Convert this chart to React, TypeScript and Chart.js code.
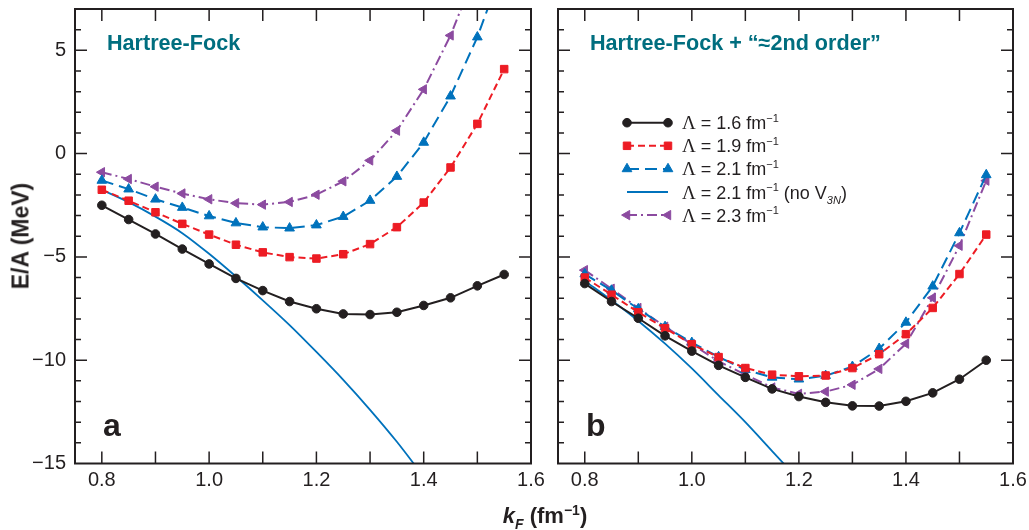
import React, { useEffect, useRef } from 'react';
import { Chart, registerables } from 'chart.js';
import { drawPoint } from 'chart.js/helpers';

Chart.register(...registerables);

// ---------- data ----------
const kF = [0.8, 0.85, 0.9, 0.95, 1.0, 1.05, 1.1, 1.15, 1.2, 1.25, 1.3, 1.35, 1.4, 1.45, 1.5, 1.55];

// Panel a: Hartree-Fock
const hf16 = [-2.5, -3.19, -3.89, -4.62, -5.34, -6.04, -6.63, -7.16, -7.51, -7.76, -7.79, -7.68, -7.35, -6.98, -6.4, -5.85];
const hf19 = [-1.75, -2.28, -2.84, -3.4, -3.92, -4.41, -4.78, -5.01, -5.08, -4.87, -4.38, -3.56, -2.37, -0.67, 1.44, 4.09];
const hf21 = [-1.3, -1.72, -2.21, -2.61, -3.02, -3.36, -3.56, -3.61, -3.46, -3.05, -2.27, -1.11, 0.54, 2.78, 5.64, 9.2];
const hf21noV = [-1.75, -2.35, -3.05, -3.85, -4.85, -5.95, -7.1, -8.3, -9.6, -10.95, -12.4, -13.95, -15.65, -17.4];
const hf23 = [-0.9, -1.23, -1.6, -1.93, -2.21, -2.4, -2.47, -2.34, -1.99, -1.34, -0.33, 1.11, 3.11, 5.72, 9.0, 13.0];

// Panel b: Hartree-Fock + "≈2nd order"
const so16 = [-6.29, -7.16, -7.97, -8.82, -9.56, -10.25, -10.83, -11.39, -11.76, -12.04, -12.21, -12.22, -11.99, -11.58, -10.92, -10.0];
const so19 = [-6.0, -6.83, -7.68, -8.45, -9.23, -9.85, -10.38, -10.7, -10.78, -10.74, -10.38, -9.71, -8.74, -7.47, -5.83, -3.92];
const so21 = [-5.83, -6.62, -7.52, -8.38, -9.15, -9.84, -10.46, -10.83, -10.92, -10.75, -10.31, -9.44, -8.17, -6.42, -3.84, -1.03];
const so21noV = [-6.16, -7.1, -8.1, -9.2, -10.4, -11.7, -13.0, -14.4, -15.8];
const so23 = [-5.64, -6.54, -7.47, -8.38, -9.23, -10.05, -10.7, -11.32, -11.63, -11.52, -11.19, -10.42, -9.2, -6.98, -4.46, -1.31];

const xRange = [0.75, 1.6];
const yRange = [-15, 7];

const seriesLabels = [
  'Λ = 1.6 fm⁻¹',
  'Λ = 1.9 fm⁻¹',
  'Λ = 2.1 fm⁻¹',
  'Λ = 2.1 fm⁻¹ (no V3N)',
  'Λ = 2.3 fm⁻¹',
];
const legendCutoffs = ['1.6', '1.9', '2.1', '2.1', '2.3'];

const titleA = 'Hartree-Fock';
const titleB = 'Hartree-Fock + \u201C\u22482nd order\u201D';

// ---------- styles ----------
const INK = '#231f20';
const RED = '#ed1c24';
const BLUE = '#0072bc';
const PURPLE = '#8c4ba0';
const TEAL = '#006e7f';
const SANS = '"Liberation Sans", Arial, Helvetica, sans-serif';
const SERIF = '"Liberation Serif", "Times New Roman", serif';

function pts(vals: number[]) {
  return vals.map((v, i) => ({ x: kF[i], y: v }));
}

function makeDatasets(v16: number[], v19: number[], v21: number[], v21n: number[], v23: number[]) {
  return [
    {
      label: seriesLabels[0], data: pts(v16), borderColor: INK, backgroundColor: INK, borderWidth: 2,
      pointStyle: 'circle', pointRadius: 4.3, pointBackgroundColor: INK, pointBorderColor: INK, pointBorderWidth: 1,
      tension: 0, clip: 0,
    },
    {
      label: seriesLabels[1], data: pts(v19), borderColor: RED, backgroundColor: RED, borderWidth: 2, borderDash: [7, 4],
      pointStyle: 'rect', pointRadius: 5.3, pointBackgroundColor: RED, pointBorderColor: RED, pointBorderWidth: 1,
      tension: 0, clip: 0,
    },
    {
      label: seriesLabels[2], data: pts(v21), borderColor: BLUE, backgroundColor: BLUE, borderWidth: 2, borderDash: [12, 6],
      pointStyle: 'triangle', pointRadius: 5.6, pointBackgroundColor: BLUE, pointBorderColor: BLUE, pointBorderWidth: 1,
      tension: 0, clip: 0,
    },
    {
      label: seriesLabels[3], data: pts(v21n), borderColor: BLUE, backgroundColor: BLUE, borderWidth: 1.8,
      pointRadius: 0, cubicInterpolationMode: 'monotone', clip: 0,
    },
    {
      label: seriesLabels[4], data: pts(v23), borderColor: PURPLE, backgroundColor: PURPLE, borderWidth: 2, borderDash: [10, 4, 2, 4],
      pointStyle: 'triangle', pointRotation: -90, pointRadius: 5.4, pointBackgroundColor: PURPLE, pointBorderColor: PURPLE, pointBorderWidth: 1,
      tension: 0, clip: 0,
    },
  ];
}

// ---------- plugin: frame, inward ticks, annotations, legend ----------
function drawRich(ctx: CanvasRenderingContext2D, x: number, y: number, segs: { t: string; font: string; dy?: number }[]) {
  let cx = x;
  for (const s of segs) {
    ctx.font = s.font;
    ctx.fillText(s.t, cx, y + (s.dy || 0));
    cx += ctx.measureText(s.t).width;
  }
}

const decorPlugin = {
  id: 'decor',
  afterDatasetsDraw(chart: any) {
    const { ctx, chartArea } = chart;
    const { left, right, top, bottom } = chartArea;
    const xs = chart.scales.x;
    const ys = chart.scales.y;
    ctx.save();
    ctx.strokeStyle = INK;
    ctx.lineWidth = 1.5;
    ctx.setLineDash([]);
    ctx.beginPath();
    xs.ticks.forEach((t: any) => {
      const px = xs.getPixelForValue(t.value);
      if (px <= left + 1 || px >= right - 1) return;
      ctx.moveTo(px, bottom); ctx.lineTo(px, bottom - 12);
      ctx.moveTo(px, top); ctx.lineTo(px, top + 12);
    });
    ys.ticks.forEach((t: any) => {
      const py = ys.getPixelForValue(t.value);
      if (py <= top + 1 || py >= bottom - 1) return;
      const major = Math.abs(t.value % 5) < 1e-6;
      const L = major ? 12 : 6;
      ctx.moveTo(left, py); ctx.lineTo(left + L, py);
      ctx.moveTo(right, py); ctx.lineTo(right - L, py);
    });
    ctx.stroke();
    ctx.lineWidth = 2;
    ctx.strokeRect(left, top, right - left, bottom - top);
    ctx.restore();
  },
  afterDraw(chart: any, _a: any, opts: any) {
    const { ctx, chartArea } = chart;
    const { left, top } = chartArea;
    ctx.save();
    ctx.textBaseline = 'alphabetic';
    ctx.textAlign = 'left';
    // title
    ctx.fillStyle = TEAL;
    ctx.font = `bold 21.6px ${SANS}`;
    ctx.fillText(opts.title, left + 32, top + 41);
    // panel letter
    ctx.fillStyle = INK;
    ctx.font = `bold 32px ${SANS}`;
    ctx.fillText(opts.letter, left + 28, top + 427);
    // legend
    if (opts.legend) {
      const x0 = left + 69;
      const x1 = left + 110;
      const tx = left + 124;
      chart.data.datasets.forEach((ds: any, i: number) => {
        const y = top + 113.7 + i * 23.1;
        ctx.strokeStyle = ds.borderColor;
        ctx.fillStyle = ds.borderColor;
        ctx.lineWidth = ds.borderWidth;
        ctx.setLineDash(ds.borderDash || []);
        ctx.beginPath();
        ctx.moveTo(x0, y); ctx.lineTo(x1, y);
        ctx.stroke();
        ctx.setLineDash([]);
        if (ds.pointRadius > 0) {
          const po = { pointStyle: ds.pointStyle, rotation: ds.pointRotation || 0, radius: ds.pointRadius, borderWidth: 1 };
          ctx.lineWidth = 1;
          drawPoint(ctx, po as any, x0, y);
          drawPoint(ctx, po as any, x1, y);
        }
        ctx.fillStyle = INK;
        const segs: { t: string; font: string; dy?: number }[] = [
          { t: 'Λ', font: `19px ${SERIF}` },
          { t: ` = ${legendCutoffs[i]} fm`, font: `18px ${SANS}` },
          { t: '−1', font: `11px ${SANS}`, dy: -7.5 },
        ];
        if (i === 3) {
          segs.push({ t: ' (no V', font: `18px ${SANS}` });
          segs.push({ t: '3N', font: `italic 11px ${SANS}`, dy: 5 });
          segs.push({ t: ')', font: `18px ${SANS}` });
        }
        drawRich(ctx, tx, y + 6.5, segs);
      });
    }
    ctx.restore();
  },
};

function fmtY(v: number) {
  if (Math.abs(v % 5) > 1e-6) return '';
  return v < 0 ? '\u2212' + Math.abs(v) : String(v);
}
function fmtX(v: number) {
  return Math.round(v * 10) % 2 === 0 ? v.toFixed(1) : '';
}

function makeConfig(datasets: any[], showY: boolean, padding: any, decor: any): any {
  return {
    type: 'line',
    data: { datasets },
    plugins: [decorPlugin],
    options: {
      animation: false,
      responsive: false,
      maintainAspectRatio: false,
      layout: { padding },
      plugins: { legend: { display: false }, tooltip: { enabled: false }, decor },
      scales: {
        x: {
          type: 'linear', min: xRange[0], max: xRange[1],
          grid: { display: false, drawTicks: false }, border: { display: false },
          ticks: {
            stepSize: 0.1, includeBounds: false, autoSkip: false, maxRotation: 0, padding: 5,
            color: INK, font: { family: SANS, size: 20 }, callback: (v: any) => fmtX(Number(v)),
          },
          afterFit: (s: any) => { s.height = 66.5; s.paddingLeft = 0; s.paddingRight = 0; },
        },
        y: {
          type: 'linear', min: yRange[0], max: yRange[1],
          grid: { display: false, drawTicks: false }, border: { display: false },
          ticks: {
            display: showY, stepSize: 1, includeBounds: false, autoSkip: false, padding: 9,
            color: INK, font: { family: SANS, size: 20 }, callback: (v: any) => fmtY(Number(v)),
          },
          afterFit: (s: any) => { s.width = showY ? 75 : 0; s.paddingTop = 0; s.paddingBottom = 0; },
        },
      },
    },
  };
}

function Panel(props: { config: any; left: number; width: number }) {
  const ref = useRef<HTMLCanvasElement | null>(null);
  useEffect(() => {
    if (!ref.current) return;
    const chart = new Chart(ref.current, props.config);
    return () => chart.destroy();
  }, []);
  return (
    <canvas
      ref={ref}
      width={props.width}
      height={530}
      style={{ position: 'absolute', left: props.left, top: 0, width: props.width, height: 530 }}
    />
  );
}

export default function App() {
  const cfgA = makeConfig(makeDatasets(hf16, hf19, hf21, hf21noV, hf23), true,
    { left: 0, top: 9, right: 17, bottom: 0 }, { title: titleA, letter: 'a', legend: false });
  const cfgB = makeConfig(makeDatasets(so16, so19, so21, so21noV, so23), false,
    { left: 10, top: 9, right: 16, bottom: 0 }, { title: titleB, letter: 'b', legend: true });
  return (
    <div style={{ position: 'fixed', left: 0, top: 0, width: 1029, height: 530, background: '#fff', overflow: 'hidden' }}>
      <Panel config={cfgA} left={0} width={548} />
      <Panel config={cfgB} left={548} width={481} />
      <div
        style={{
          position: 'absolute', left: 21, top: 236, transform: 'translate(-50%, -50%) rotate(-90deg)',
          font: `bold 23px ${SANS}`, color: INK, whiteSpace: 'nowrap', lineHeight: 1,
        }}
      >
        E/A (MeV)
      </div>
      <div
        style={{
          position: 'absolute', left: 545, top: 516, transform: 'translate(-50%, -50%)',
          font: `bold 22px ${SANS}`, color: INK, whiteSpace: 'nowrap', lineHeight: 1,
        }}
      >
        <i>k</i>
        <span style={{ fontSize: 14, fontStyle: 'italic', position: 'relative', top: 6 }}>F</span>
        <span> (fm</span>
        <span style={{ fontSize: 14, position: 'relative', top: -8 }}>−1</span>
        <span>)</span>
      </div>
    </div>
  );
}
